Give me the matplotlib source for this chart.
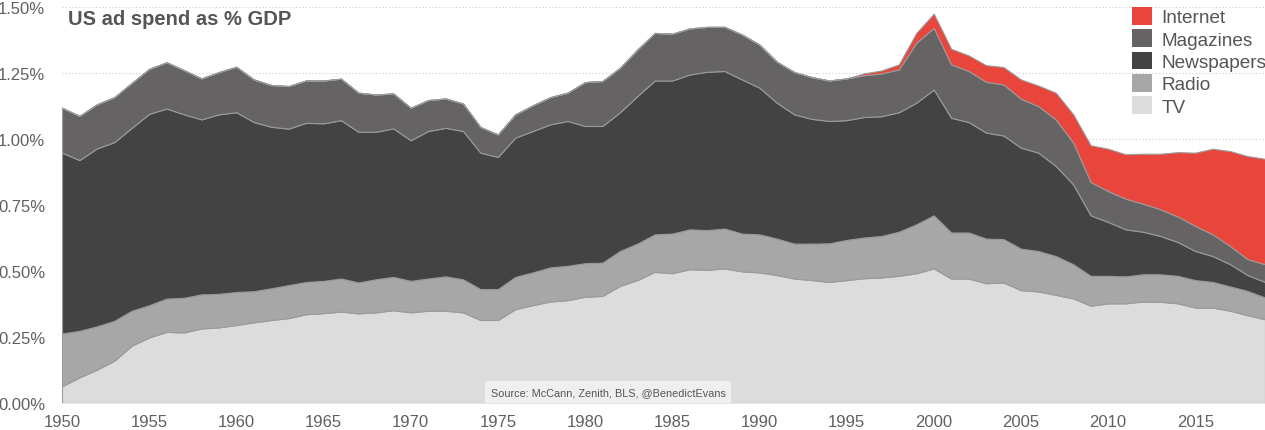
import numpy as np
import matplotlib
matplotlib.use("Agg")
import matplotlib.pyplot as plt
from matplotlib.patches import Patch

plt.rcParams["font.family"] = ["Liberation Sans", "DejaVu Sans"]

# share of US GDP spent on each medium, %
years = list(range(1950, 2020))

tv = [0.063, 0.097, 0.126, 0.160, 0.217, 0.248, 0.269, 0.267, 0.282, 0.286,
      0.295, 0.305, 0.314, 0.321, 0.336, 0.340, 0.346, 0.339, 0.343, 0.351,
      0.343, 0.349, 0.349, 0.343, 0.314, 0.314, 0.355, 0.370, 0.384, 0.389,
      0.402, 0.405, 0.443, 0.465, 0.496, 0.491, 0.506, 0.504, 0.509, 0.498,
      0.494, 0.484, 0.471, 0.465, 0.458, 0.465, 0.472, 0.475, 0.481, 0.491,
      0.509, 0.471, 0.471, 0.453, 0.456, 0.427, 0.422, 0.409, 0.396, 0.368,
      0.377, 0.377, 0.384, 0.383, 0.377, 0.361, 0.361, 0.349, 0.332, 0.317]

radio = [0.200, 0.176, 0.164, 0.151, 0.132, 0.122, 0.126, 0.131, 0.129, 0.127,
         0.125, 0.118, 0.120, 0.125, 0.122, 0.122, 0.125, 0.117, 0.125, 0.126,
         0.119, 0.122, 0.130, 0.125, 0.117, 0.117, 0.122, 0.124, 0.129, 0.130,
         0.127, 0.126, 0.132, 0.138, 0.142, 0.150, 0.151, 0.150, 0.151, 0.143,
         0.144, 0.138, 0.132, 0.138, 0.146, 0.152, 0.154, 0.157, 0.167, 0.185,
         0.201, 0.174, 0.174, 0.169, 0.164, 0.157, 0.153, 0.147, 0.129, 0.113,
         0.104, 0.102, 0.103, 0.104, 0.104, 0.104, 0.097, 0.092, 0.092, 0.082]

newspapers = [0.684, 0.646, 0.673, 0.676, 0.692, 0.724, 0.719, 0.694, 0.662, 0.679,
              0.680, 0.640, 0.611, 0.592, 0.602, 0.596, 0.599, 0.570, 0.558, 0.562,
              0.532, 0.558, 0.562, 0.561, 0.516, 0.500, 0.527, 0.535, 0.541, 0.548,
              0.519, 0.517, 0.525, 0.558, 0.582, 0.579, 0.586, 0.599, 0.596, 0.583,
              0.555, 0.514, 0.489, 0.472, 0.463, 0.453, 0.456, 0.453, 0.452, 0.460,
              0.476, 0.434, 0.418, 0.401, 0.392, 0.382, 0.372, 0.341, 0.302, 0.229,
              0.204, 0.178, 0.161, 0.145, 0.128, 0.110, 0.098, 0.084, 0.060, 0.059]

magazines = [0.170, 0.167, 0.167, 0.170, 0.170, 0.170, 0.175, 0.167, 0.155, 0.160,
             0.172, 0.161, 0.158, 0.161, 0.160, 0.162, 0.157, 0.148, 0.141, 0.132,
             0.123, 0.117, 0.111, 0.104, 0.097, 0.085, 0.088, 0.097, 0.103, 0.107,
             0.166, 0.170, 0.168, 0.176, 0.180, 0.177, 0.174, 0.170, 0.167, 0.170,
             0.163, 0.155, 0.160, 0.158, 0.153, 0.158, 0.158, 0.162, 0.162, 0.227,
             0.233, 0.202, 0.193, 0.192, 0.193, 0.185, 0.176, 0.176, 0.158, 0.126,
             0.117, 0.116, 0.106, 0.101, 0.096, 0.095, 0.082, 0.069, 0.060, 0.067]

internet = [0.0] * 46 + [0.007, 0.011, 0.019, 0.037,
            0.054, 0.059, 0.059, 0.063, 0.066, 0.073, 0.078, 0.101, 0.107, 0.139,
            0.160, 0.168, 0.189, 0.210, 0.244, 0.277, 0.324, 0.359, 0.390, 0.399]

labels = ["TV", "Radio", "Newspapers", "Magazines", "Internet"]
colors = ["#dcdcdc", "#a7a7a7", "#434343", "#656363", "#e8453c"]

fig = plt.figure(figsize=(12.65, 4.31), dpi=100)
ax = fig.add_axes([62 / 1265, 27 / 431, 1 - 62 / 1265, (404 - 7.5) / 431])

ax.stackplot(years, tv, radio, newspapers, magazines, internet,
             colors=colors, edgecolor="#9a9a9a", linewidth=0.8, zorder=2)

ax.set_xlim(1950, 2019)
ax.set_ylim(0, 1.5)
ax.set_xticks(range(1950, 2020, 5))
ax.set_yticks(np.arange(0, 1.51, 0.25))
ax.set_yticklabels([f"{v:.2f}%" for v in np.arange(0, 1.51, 0.25)])
ax.tick_params(length=0, labelsize=12, labelcolor="#606060")
ax.tick_params(axis="y", pad=12)
ax.tick_params(axis="x", pad=8)

ax.grid(axis="y", color="#cccccc", linestyle=(0, (1, 2)), linewidth=0.8, zorder=0)
ax.set_axisbelow(True)
for side in ["top", "right", "left"]:
    ax.spines[side].set_visible(False)
ax.spines["bottom"].set_color("#e6e6e6")
ax.spines["bottom"].set_linewidth(0.8)

fig.text(68 / 1265, 1 - 25 / 431, "US ad spend as % GDP", fontsize=14.5,
         fontweight="bold", color="#555555", va="baseline", ha="left")

fig.text(608 / 1265, 1 - 393 / 431, "Source: McCann, Zenith, BLS, @BenedictEvans",
         fontsize=7.8, color="#555555", ha="center", va="center",
         bbox=dict(facecolor="#efefef", edgecolor="none", pad=4))

handles = [Patch(facecolor=c, edgecolor="none") for c in colors[::-1]]
fig.legend(handles, labels[::-1], loc="upper left",
           bbox_to_anchor=(1132 / 1265, 1 - 8 / 431), frameon=False,
           fontsize=13.7, labelcolor="#555555", handlelength=1.05, handleheight=1.05,
           handletextpad=0.5, labelspacing=0.16, borderpad=0, borderaxespad=0)

fig.savefig("out.png", dpi=100)
